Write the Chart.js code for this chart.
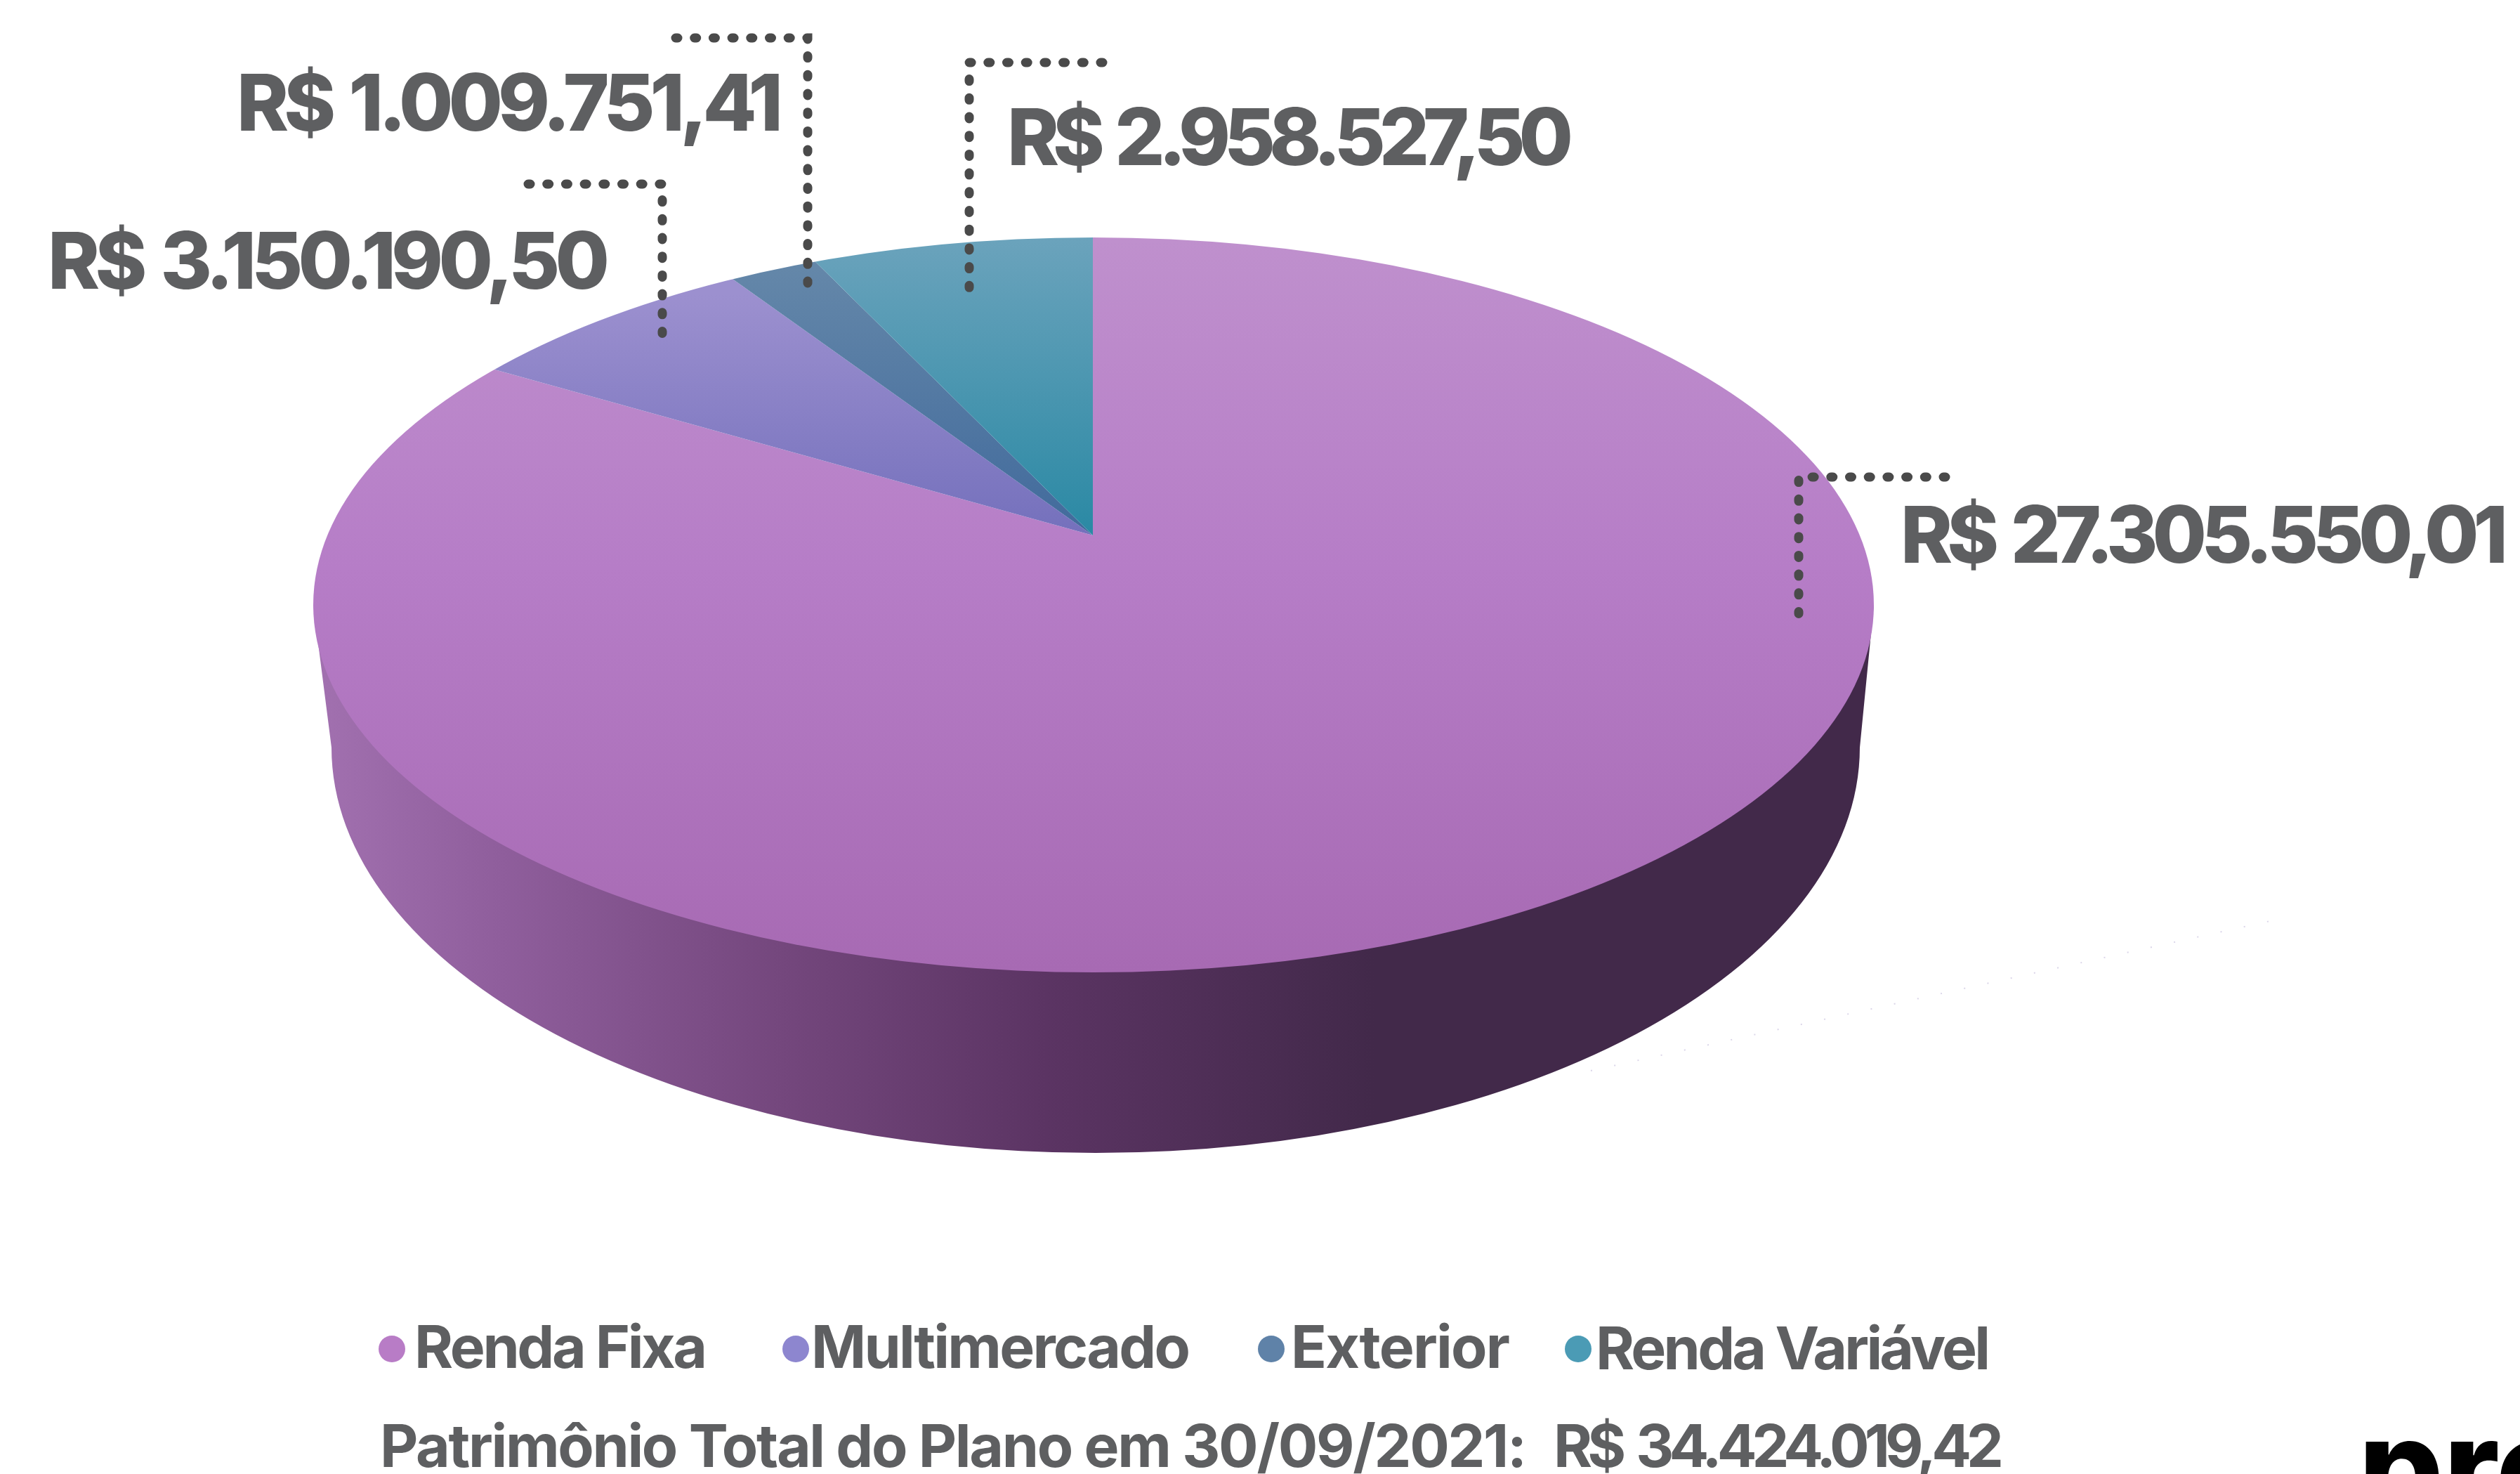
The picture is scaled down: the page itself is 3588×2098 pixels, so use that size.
<!DOCTYPE html>
<html>
<head>
<meta charset="utf-8">
<title>Patrimônio do Plano</title>
<script src="https://cdn.jsdelivr.net/npm/chart.js@4"></script>
<style>
    html, body { margin: 0; padding: 0; background: #ffffff; }
    canvas { display: block; }
</style>
</head>
<body>
<canvas id="pieChart" width="3588" height="2098"></canvas>
<script>
const categories = ['Renda Fixa', 'Multimercado', 'Exterior', 'Renda Variável'];
const values = [27305550.01, 3150190.50, 1009751.41, 2958527.50];
const totalValue = 34424019.42;
const totalCaption = 'Patrimônio Total do Plano em 30/09/2021:';
const legendColors = ['#B87CC6', '#8D86CF', '#5F82A8', '#4B9BB5'];

// top colour -> bottom colour of each slice
const sliceStops = [
    [[0, '#BF90CD'], [0.45, '#B67DC7'], [1, '#A76AB3']],
    [[0, '#9C90CF'], [1, '#7470BC']],
    [[0, '#6487A9'], [1, '#416A9C']],
    [[0, '#6BA3BC'], [1, '#2A89A4']]
];
const sliceRanges = [[339, 1384], [420, 762], [380, 762], [339, 762]];

// 3D look: pie is flattened around its centre and clipped to the top ellipse
const apex = { x: 1556, y: 762 };
const flat = { f: 1.5, k: 0.135, s: 0.51 };
const topEllipse = { x: 1557, y: 861, rx: 1111, ry: 523 };
const baseEllipse = { x: 1560, y: 1064, rx: 1088, ry: 577 };

const wallStops = [
    [0, '#A271B0'], [0.12, '#8F5E9C'], [0.3, '#74477D'], [0.47, '#5B3463'],
    [0.68, '#42294A'], [1, '#42294A']
];

const valueLabelPos = [
    { x: 2706, y: 801, w: 865 },
    { x: 68, y: 411, w: 800 },
    { x: 337, y: 186, w: 778 },
    { x: 1434, y: 235, w: 806 }
];
const callouts = [
    [[2770, 679], [2561, 679], [2561, 880]],
    [[752, 262], [943, 262], [943, 488]],
    [[962, 54], [1150, 54], [1150, 405]],
    [[1570, 89], [1380, 89], [1380, 424]]
];

const legendPos = [
    { dot: 558, x: 590, w: 417, y: 1947 },
    { dot: 1133, x: 1155, w: 540, y: 1947 },
    { dot: 1810, x: 1838, w: 312, y: 1947 },
    { dot: 2247, x: 2272, w: 562, y: 1949 }
];

const textColor = '#5E5F61';
const dotColor = '#4A4A4A';

function brl(v) {
    return 'R$ ' + v.toLocaleString('pt-BR', { minimumFractionDigits: 2, maximumFractionDigits: 2 });
}

function fitText(ctx, text, x, y, width, font, color, wordGap) {
    ctx.font = font;
    ctx.letterSpacing = '0px';
    ctx.wordSpacing = (wordGap || 0) + 'px';
    const w = ctx.measureText(text).width;
    ctx.letterSpacing = ((width - w) / (text.length - 1)) + 'px';
    ctx.fillStyle = color;
    ctx.textAlign = 'left';
    ctx.textBaseline = 'alphabetic';
    ctx.fillText(text, x, y);
    ctx.letterSpacing = '0px';
    ctx.wordSpacing = '0px';
}

function sliceGradient(context) {
    const chart = context.chart;
    const area = chart.chartArea;
    const i = context.dataIndex;
    if (!area) return legendColors[i];
    const cx = (area.left + area.right) / 2;
    const cy = (area.top + area.bottom) / 2;
    const b = flat.f * flat.k;
    const d = flat.f * flat.s;
    const n = b * b + d * d;
    const t0 = (sliceRanges[i][0] - apex.y) / n;
    const t1 = (sliceRanges[i][1] - apex.y) / n;
    const g = chart.ctx.createLinearGradient(cx + t0 * b, cy + t0 * d, cx + t1 * b, cy + t1 * d);
    sliceStops[i].forEach(s => g.addColorStop(s[0], s[1]));
    return g;
}

const pie3d = {
    id: 'pie3d',
    beforeDatasetsDraw(chart) {
        const ctx = chart.ctx;
        const arc = chart.getDatasetMeta(0).data[0];

        // side wall
        const left = topEllipse.x - topEllipse.rx;
        const right = topEllipse.x + topEllipse.rx;
        const wall = ctx.createLinearGradient(left, 0, right, 0);
        wallStops.forEach(s => wall.addColorStop(s[0], s[1]));
        ctx.save();
        ctx.beginPath();
        ctx.moveTo(left, topEllipse.y);
        ctx.lineTo(baseEllipse.x - baseEllipse.rx, baseEllipse.y);
        ctx.ellipse(baseEllipse.x, baseEllipse.y, baseEllipse.rx, baseEllipse.ry, 0, Math.PI, 0, true);
        ctx.lineTo(right, topEllipse.y);
        ctx.closePath();
        ctx.fillStyle = wall;
        ctx.fill();
        ctx.restore();

        // top face
        ctx.save();
        ctx.beginPath();
        ctx.ellipse(topEllipse.x, topEllipse.y, topEllipse.rx, topEllipse.ry, 0, 0, Math.PI * 2);
        ctx.clip();
        ctx.translate(apex.x, apex.y);
        ctx.transform(flat.f, flat.f * flat.k, 0, flat.f * flat.s, 0, 0);
        ctx.translate(-arc.x, -arc.y);
    },
    afterDatasetsDraw(chart) {
        const ctx = chart.ctx;
        ctx.restore();

        // faint leader line under the pie
        ctx.save();
        ctx.strokeStyle = 'rgba(190,180,215,0.55)';
        ctx.lineWidth = 2;
        ctx.setLineDash([2, 32]);
        ctx.beginPath();
        ctx.moveTo(2265, 1524);
        ctx.lineTo(3241, 1309);
        ctx.stroke();
        ctx.restore();

        // dotted callouts
        ctx.save();
        ctx.strokeStyle = dotColor;
        ctx.lineWidth = 13;
        ctx.lineCap = 'round';
        ctx.setLineDash([3, 23.7]);
        callouts.forEach(c => {
            ctx.beginPath();
            ctx.moveTo(c[0][0], c[0][1]);
            ctx.lineTo(c[1][0], c[1][1]);
            ctx.lineTo(c[2][0], c[2][1]);
            ctx.stroke();
        });
        ctx.restore();

        // value labels
        values.forEach((v, i) => {
            const p = valueLabelPos[i];
            fitText(ctx, brl(v), p.x, p.y, p.w, '800 112px Inter', textColor, 8);
        });

        // legend
        categories.forEach((c, i) => {
            const p = legendPos[i];
            ctx.beginPath();
            ctx.arc(p.dot, 1920, 19, 0, Math.PI * 2);
            ctx.fillStyle = legendColors[i];
            ctx.fill();
            fitText(ctx, c, p.x, p.y, p.w, '700 84px Inter', textColor);
        });

        // total
        fitText(ctx, totalCaption, 541, 2088, 1633, '700 84px Inter', textColor);
        fitText(ctx, brl(totalValue), 2212, 2088, 641, '700 84px Inter', textColor, 8);

        // cut off logo in the corner
        ctx.font = '800 190px Inter';
        ctx.fillStyle = '#000000';
        ctx.textAlign = 'left';
        ctx.textBaseline = 'alphabetic';
        ctx.fillText('pre', 3358, 2156);
    }
};

new Chart(document.getElementById('pieChart').getContext('2d'), {
    type: 'pie',
    data: {
        labels: categories,
        datasets: [{
            data: values,
            backgroundColor: sliceGradient,
            borderWidth: 0,
            hoverOffset: 0,
            clip: false
        }]
    },
    options: {
        responsive: false,
        animation: false,
        layout: { padding: 0 },
        plugins: {
            legend: { display: false },
            tooltip: { enabled: false }
        }
    },
    plugins: [pie3d]
});
</script>
</body>
</html>
